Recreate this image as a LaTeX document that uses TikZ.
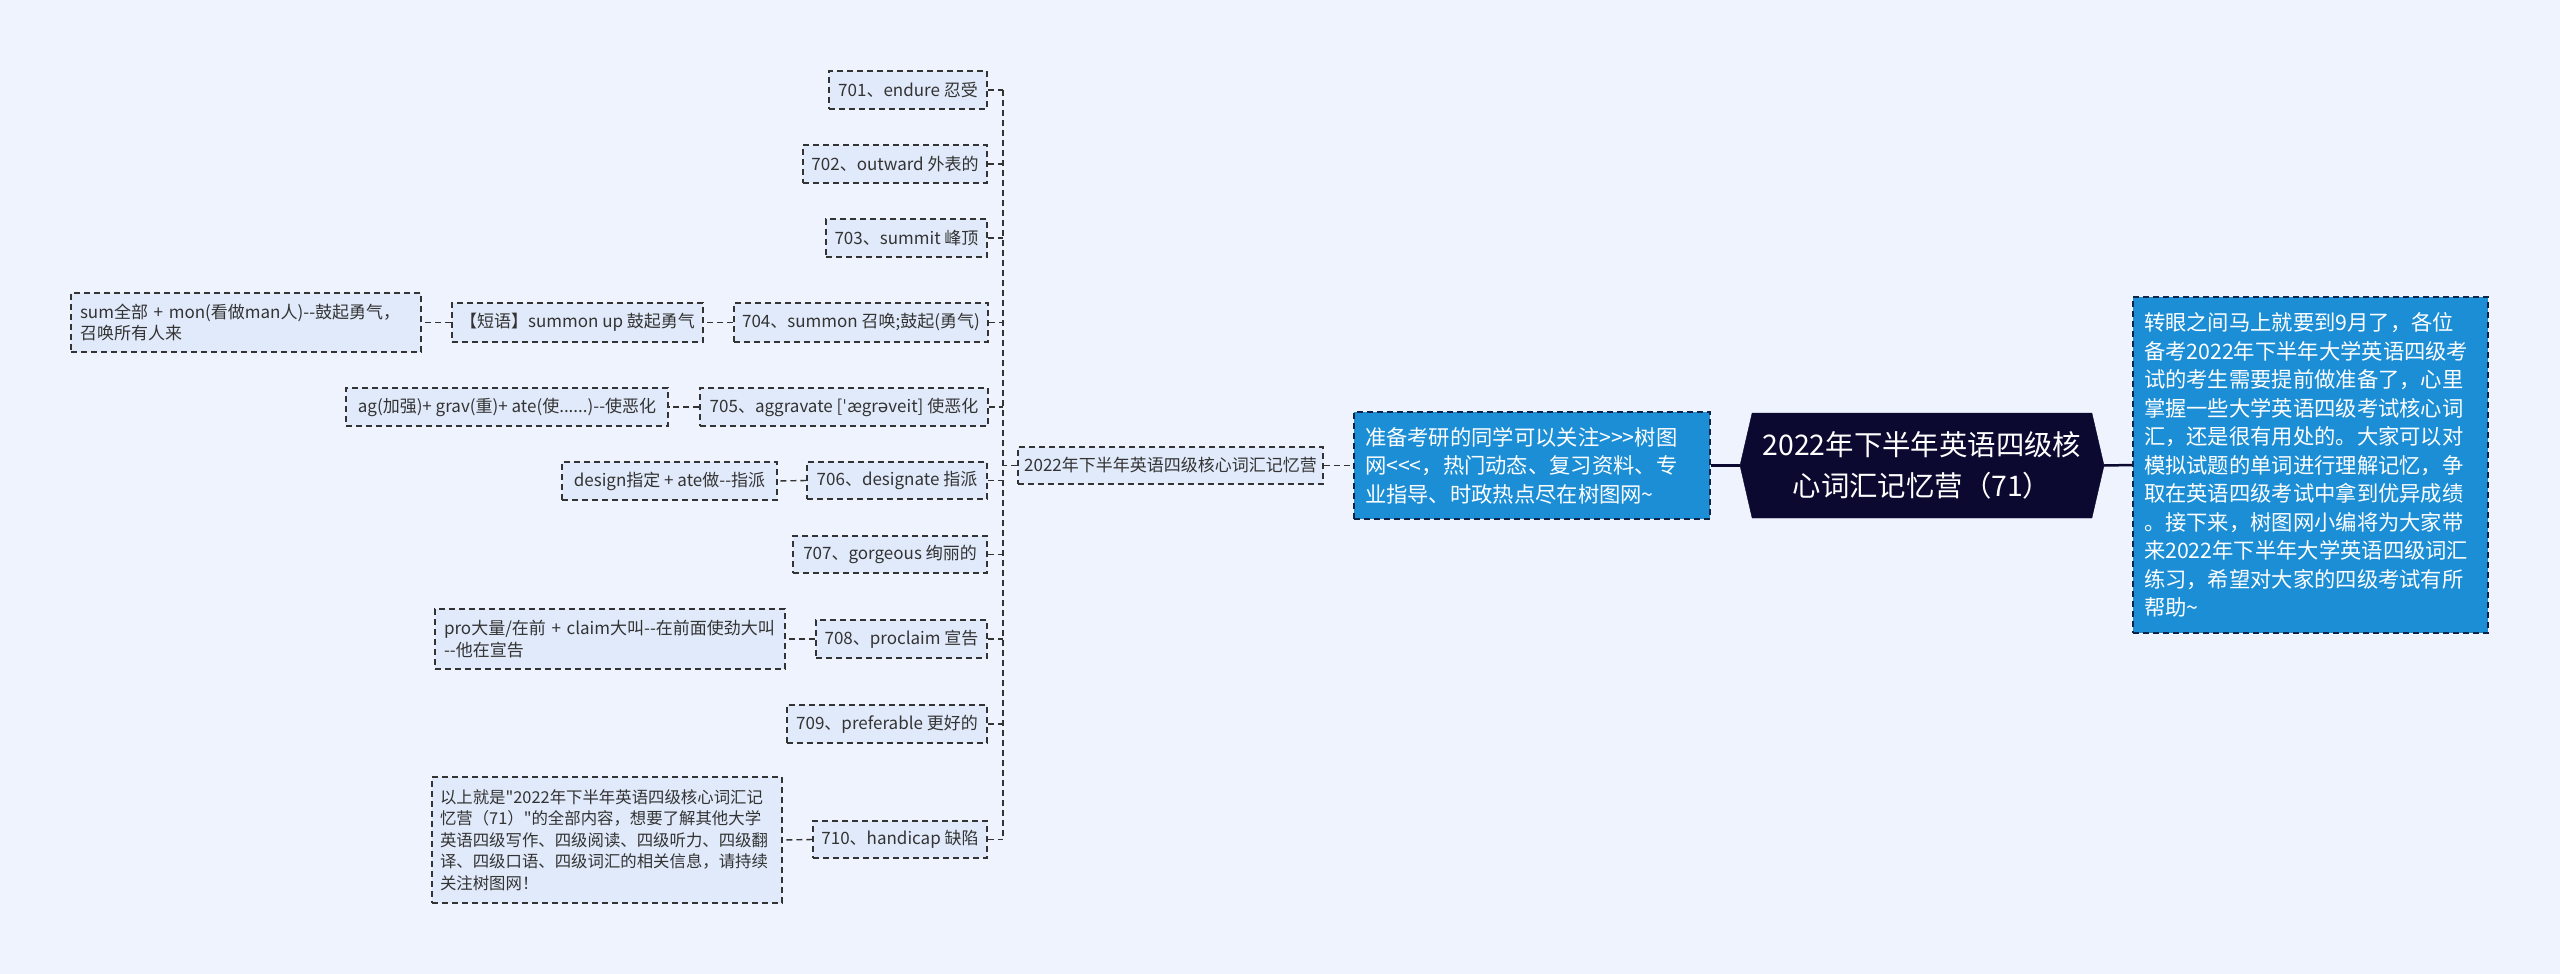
\documentclass[tikz,border=0pt]{standalone}
\usepackage{fontspec}
\setmainfont{Noto Sans CJK SC}[Ligatures=TeXOff]
\newfontfamily\ipafont{DejaVu Sans}
\usetikzlibrary{shapes.symbols}
\definecolor{bgc}{HTML}{EEF3FD}
\definecolor{nfill}{HTML}{E1EAFA}
\definecolor{nline}{HTML}{333333}
\definecolor{bluef}{HTML}{1B8ED6}
\definecolor{bluel}{HTML}{0E2446}
\definecolor{darkc}{HTML}{0B0930}
\newcommand\tld{\symbol{"7E}}
\begin{document}
\begin{tikzpicture}[x=1pt,y=-1pt,
  dsh/.style={dash pattern=on 6pt off 4pt, line width=1.4pt},
  box/.style={draw=nline, dsh, fill=nfill, text=nline, inner sep=0pt, font=\fontsize{17}{21.6}\selectfont},
  mbox/.style={box, align=left, inner xsep=9pt},
  bluebox/.style={draw=bluel, dsh, fill=bluef, text=white, inner sep=0pt, inner xsep=11pt, align=left, font=\fontsize{21.3}{28.5}\selectfont},
  conn/.style={draw=nline, dsh},
  solidc/.style={draw=darkc, line width=2.5pt}
]
\useasboundingbox[fill=bgc] (0,0) rectangle (2560,974);
\coordinate (sp) at (1003,0);

% level-1 word nodes
\node[box, minimum width=158pt, minimum height=38pt] (n701) at (908,90) {701、endure 忍受};
\node[box, minimum width=184pt, minimum height=38pt] (n702) at (895,164) {702、outward 外表的};
\node[box, minimum width=161pt, minimum height=38pt] (n703) at (906.5,238) {703、summit 峰顶};
\node[box, minimum width=254pt, minimum height=39pt] (n704) at (861,322.5) {704、summon 召唤;鼓起(勇气)};
\node[box, minimum width=288pt, minimum height=38pt] (n705) at (844,407) {705、aggravate [{\ipafont ˈ}ægr{\ipafont ə}veit] 使恶化};
\node[box, minimum width=180pt, minimum height=37pt] (n706) at (897,480.5) {706、designate 指派};
\node[box, minimum width=194pt, minimum height=37pt] (n707) at (890,554.5) {707、gorgeous 绚丽的};
\node[box, minimum width=171pt, minimum height=38pt] (n708) at (901.5,639) {708、proclaim 宣告};
\node[box, minimum width=200pt, minimum height=38pt] (n709) at (887,724) {709、preferable 更好的};
\node[box, minimum width=174pt, minimum height=37pt] (n710) at (900,839.5) {710、handicap 缺陷};

% level-2 / level-3 nodes
\node[box, minimum width=251pt, minimum height=39pt] (phr) at (577.5,322.5) {【短语】summon up 鼓起勇气};
\node[mbox, text width=332pt, minimum height=59pt] (sum) at (246,322.5) {sum全部 + mon(看做man人)--鼓起勇气，\\召唤所有人来};
\node[box, minimum width=322pt, minimum height=38pt] (ag) at (507,407) {ag(加强)+ grav(重)+ ate(使......)--使恶化};
\node[box, minimum width=215pt, minimum height=38pt] (des) at (669.5,481) {design指定 + ate做--指派};
\node[mbox, text width=332pt, minimum height=60pt] (pro) at (610,639) {pro大量/在前 + claim大叫--在前面使劲大叫\\--他在宣告};
\node[mbox, text width=334pt, inner xsep=8pt, minimum height=126pt, font=\fontsize{16.4}{21.6}\selectfont] (sumup) at (607,840) {以上就是"2022年下半年英语四级核心词汇记\\忆营（71）"的全部内容，想要了解其他大学\\英语四级写作、四级阅读、四级听力、四级翻\\译、四级口语、四级词汇的相关信息，请持续\\关注树图网！};

% label, blue boxes, centre
\node[box, minimum width=305pt, minimum height=37pt] (lab) at (1170.5,465.5) {2022年下半年英语四级核心词汇记忆营};
\node[bluebox, text width=334pt, minimum height=107pt] (lb) at (1532,465.5) {准备考研的同学可以关注>>>树图\\网<<<，热门动态、复习资料、专\\业指导、时政热点尽在树图网\tld};
\node[signal, signal to=west and east, signal pointer angle=154, fill=darkc, draw=darkc, text=white, minimum width=364pt, minimum height=105pt, inner sep=0pt, align=center, font=\fontsize{28.4}{41}\selectfont] (ctr) at (1922,465.5) {2022年下半年英语四级核\\心词汇记忆营（71）};
\node[bluebox, text width=333pt, minimum height=336pt] (rb) at (2310.5,465) {转眼之间马上就要到9月了，各位\\备考2022年下半年大学英语四级考\\试的考生需要提前做准备了，心里\\掌握一些大学英语四级考试核心词\\汇，还是很有用处的。大家可以对\\模拟试题的单词进行理解记忆，争\\取在英语四级考试中拿到优异成绩\\。接下来，树图网小编将为大家带\\来2022年下半年大学英语四级词汇\\练习，希望对大家的四级考试有所\\帮助\tld};

% connectors
\foreach \n in {n701,n702,n703,n704,n705,n706,n707,n708,n709,n710}
  \draw[conn] (\n.east) -- (\n.east -| sp);
\draw[conn] (n701.east -| sp) -- (n710.east -| sp);
\draw[conn] (lab.west) -- (lab.west -| sp);
\draw[conn] (lab.east) -- (lb.west);
\draw[conn] (n704.west) -- (phr.east);
\draw[conn] (phr.west) -- (sum.east);
\draw[conn] (n705.west) -- (ag.east);
\draw[conn] (n706.west) -- (des.east);
\draw[conn] (n708.west) -- (pro.east);
\draw[conn] (n710.west) -- (sumup.east);
\draw[solidc] (lb.east) -- (ctr.west);
\draw[solidc] (ctr.east) -- (rb.west);
\end{tikzpicture}
\end{document}
